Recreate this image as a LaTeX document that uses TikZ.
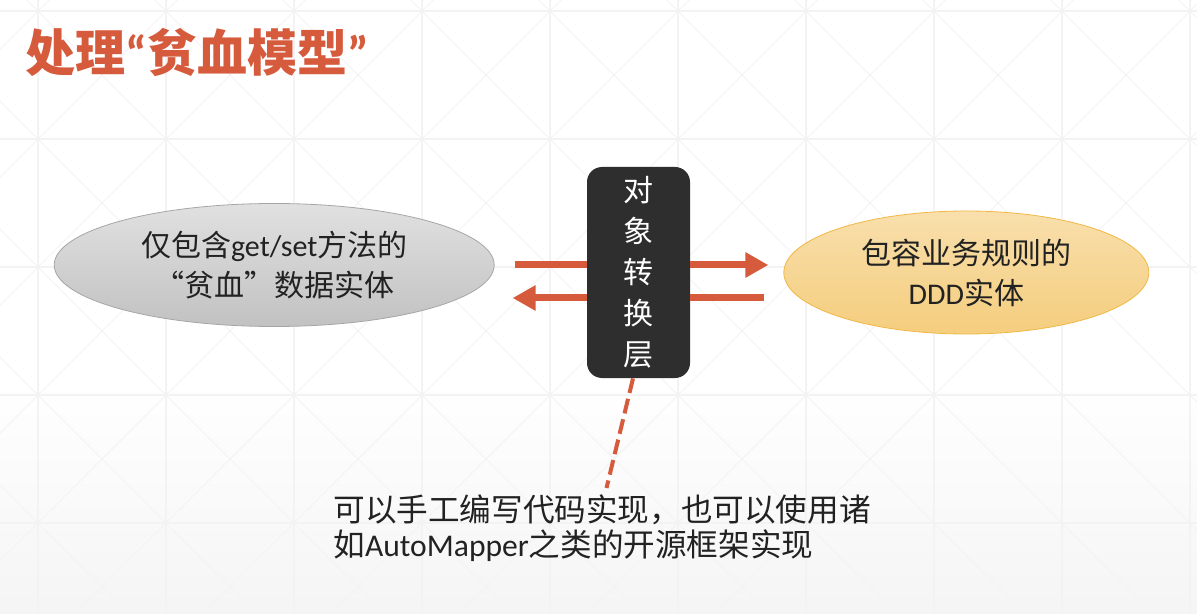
\documentclass[tikz,border=0pt]{standalone}
\usepackage{fontspec}
\setmainfont{Noto Sans CJK SC}
\newfontfamily\lat{Carlito}
\usetikzlibrary{arrows.meta,positioning,shapes.geometric}
\definecolor{ttlred}{RGB}{214,90,60}
\definecolor{boxdark}{RGB}{46,46,46}
\definecolor{gridgray}{RGB}{243,243,243}
\definecolor{txtdark}{RGB}{34,34,34}
\definecolor{ellgray}{RGB}{166,166,166}
\definecolor{ellorange}{RGB}{240,184,70}

\begin{document}
\begin{tikzpicture}[x=0.5pt, y=-0.5pt, >=Stealth,
  title/.style={inner sep=0pt,text=ttlred,font=\fontsize{25}{30}\selectfont\bfseries},
  entity/.style={ellipse,inner sep=0pt,minimum height=61.5pt,align=center,
                 text=txtdark,font=\fontsize{15}{20}\selectfont},
  convbox/.style={rounded corners=7.5pt,fill=boxdark,text=white,inner sep=0pt,
                  minimum width=51.5pt,minimum height=105.5pt,align=center,
                  font=\fontsize{15}{20.5}\selectfont},
  note/.style={inner sep=0pt,align=left,text=txtdark,
               font=\fontsize{15.8}{17.5}\selectfont},
  bar/.style={line width=3.5pt,ttlred},
  head/.style={-{Triangle[length=11.5pt,width=12pt]}}]
  % background
  \useasboundingbox (0,0) rectangle (1197,614);
  \fill[white] (0,0) rectangle (1197,614);
  \shade[top color=white,bottom color=black!4] (0,380) rectangle (1197,614);
  \begin{scope}
    \clip (0,0) rectangle (1197,614);
    \foreach \gx in {38,166,...,1190} \draw[gridgray,line width=0.6pt] (\gx,0) -- (\gx,614);
    \foreach \gy in {11,139,...,523} \draw[gridgray,line width=0.6pt] (0,\gy) -- (1197,\gy);
    \foreach \gk in {-6,...,10} {
      \draw[gridgray,line width=0.5pt] (27+128*\gk-700,-700) -- (27+128*\gk+1400,1400);
      \draw[gridgray,line width=0.5pt] (49+128*\gk+700,-700) -- (49+128*\gk-1400,1400);
    }
  \end{scope}

  \node[title,anchor=west] (ttl) at (25,52) {处理{\lat “}贫血模型{\lat ”}};

  \node[convbox] (conv) at (638.5,272.5) {对\\象\\转\\换\\层};
  \node[entity,minimum width=220pt,draw=ellgray,top color=black!12,bottom color=black!24,
        left=46pt of conv,yshift=3.75pt] (anemic)
        {仅包含{\lat get/set}方法的\\“贫血”数据实体};
  \node[entity,minimum width=182.5pt,draw=ellorange,top color=ellorange!45,bottom color=ellorange!70,
        right=46.5pt of conv] (domain)
        {包容业务规则的\\{\lat DDD}实体};

  \node[note,anchor=north west] (note) at (333,494)
        {可以手工编写代码实现，也可以使用诸\\如{\lat AutoMapper}之类的开源框架实现};

  \draw[bar,shorten >=10pt] ([yshift=3.75pt]conv.west) -- (anemic.east);
  \draw[bar,head,shorten >=9pt] ([yshift=-12.75pt]conv.west) -- ([yshift=-16.5pt]anemic.east);
  \draw[bar,head,shorten >=7.5pt] ([yshift=3.75pt]conv.east) -- ([yshift=3.75pt]domain.west);
  \draw[bar,shorten >=9.5pt] ([yshift=-12.75pt]conv.east) -- ([yshift=-12.75pt]domain.west);
  \draw[ttlred,line width=2pt,dash pattern=on 7.5pt off 3pt]
    ([xshift=-2.75pt]conv.south) -- ([xshift=2.25pt,yshift=3pt]note.north);
\end{tikzpicture}
\end{document}
